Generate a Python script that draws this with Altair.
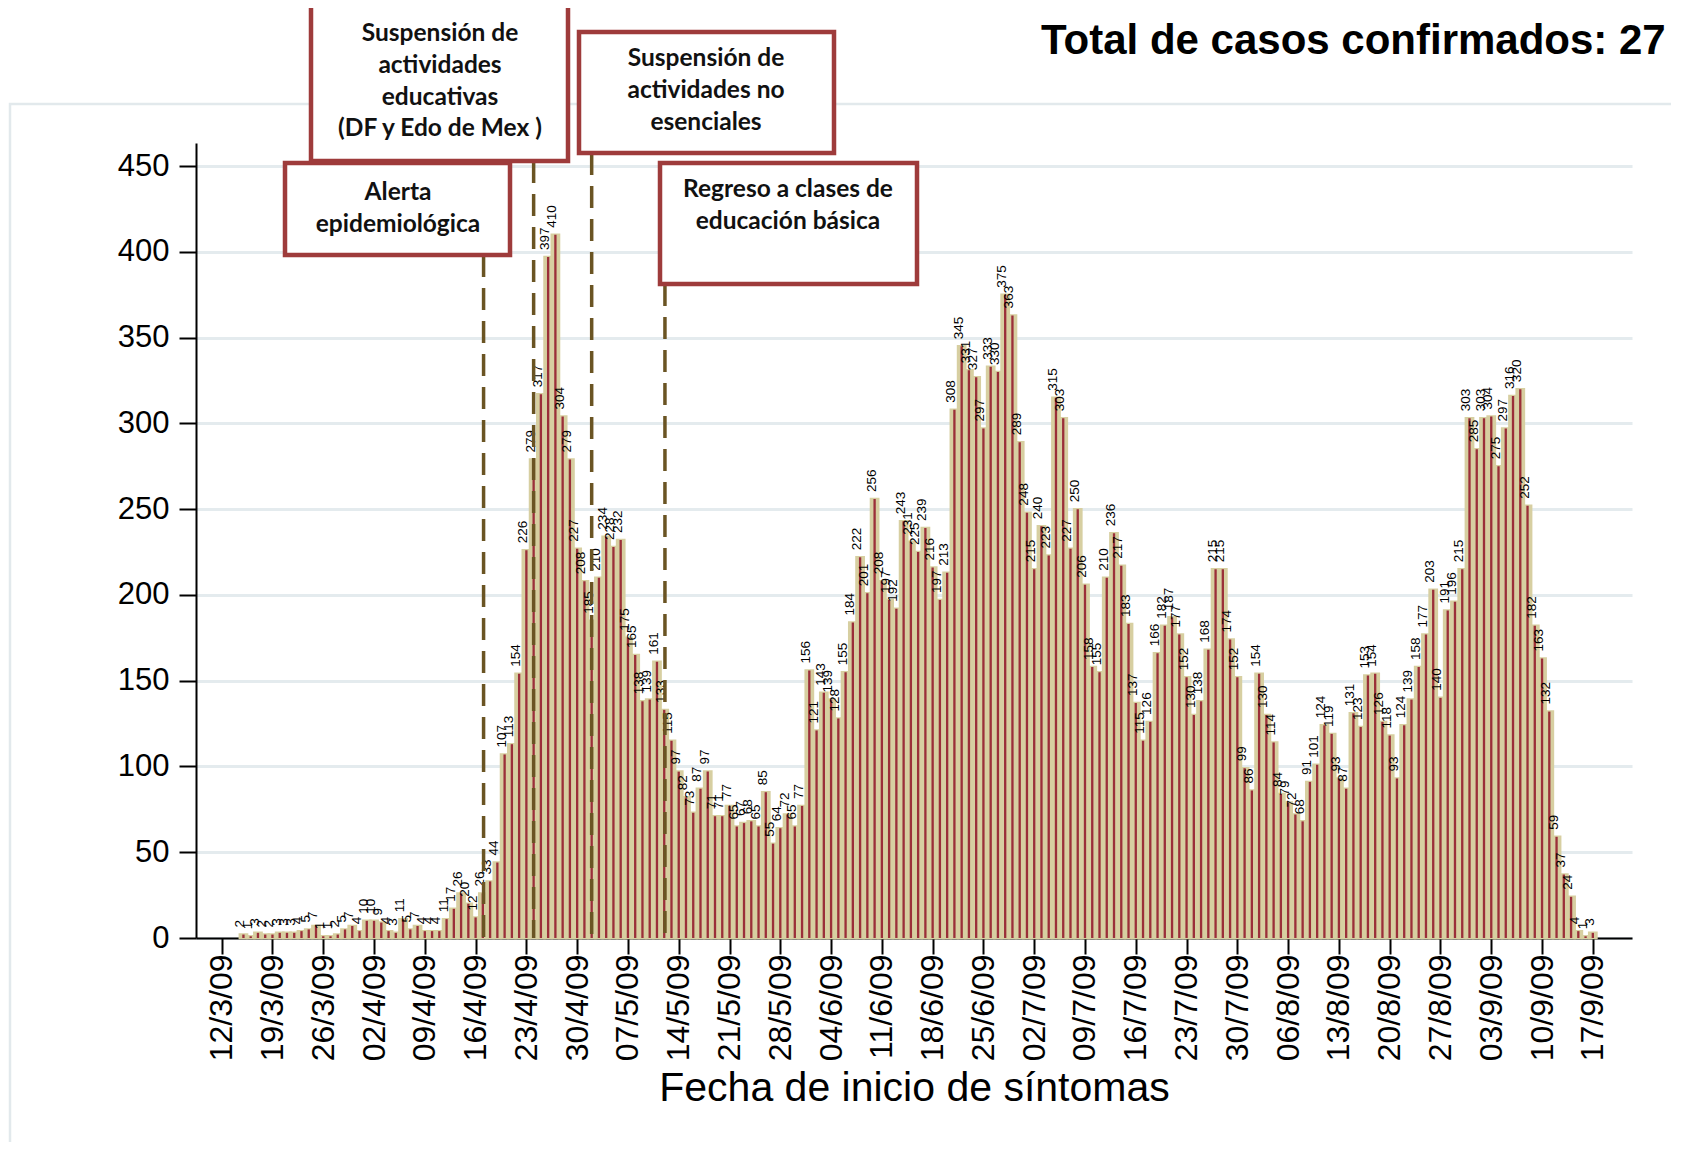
import json
import altair as alt
import pandas as pd

# ---------------- data (day 0 = 12/3/09) ----------------
first_day = 3  # first bar: 15/3/09
cases = [
    2, 1, 3, 2, 2, 3, 3, 3, 4, 5, 7, 1, 1, 2, 5, 7, 4, 10, 10, 9, 4, 3, 11, 5, 7, 4, 4, 4,
    11, 17, 26, 20, 12, 26, 33, 44, 107, 113, 154, 226, 279, 317, 397, 410, 304, 279, 227, 208, 185, 210, 234, 228, 232,
    175, 165, 138, 139, 161, 133, 115, 97, 82, 73, 87, 97, 71, 71, 77, 65, 67, 68, 65, 85, 55, 64, 72, 65, 77,
    156, 121, 143, 139, 128, 155, 184, 222, 201, 256, 208, 197, 192, 243, 231, 225, 239, 216, 197, 213,
    308, 345, 331, 327, 297, 333, 330, 375, 363, 289, 248, 215, 240, 223, 315, 303, 227, 250, 206, 158,
    155, 210, 236, 217, 183, 137, 115, 126, 166, 182, 187, 177, 152, 130, 138, 168, 215, 215, 174, 152,
    99, 86, 154, 130, 114, 84, 79, 72, 68, 91, 101, 124, 119, 93, 87, 131, 123, 153, 154, 126,
    118, 93, 124, 139, 158, 177, 203, 140, 191, 196, 215, 303, 285, 303, 304, 275, 297, 316, 320, 252,
    182, 163, 132, 59, 37, 24, 4, 1, 3,
]
days = list(range(first_day, first_day + len(cases)))

tick_days = list(range(0, 190, 7))
tick_labels = ["12/3/09", "19/3/09", "26/3/09", "02/4/09", "09/4/09", "16/4/09", "23/4/09",
               "30/4/09", "07/5/09", "14/5/09", "21/5/09", "28/5/09", "04/6/09", "11/6/09",
               "18/6/09", "25/6/09", "02/7/09", "09/7/09", "16/7/09", "23/7/09", "30/7/09",
               "06/8/09", "13/8/09", "20/8/09", "27/8/09", "03/9/09", "10/9/09", "17/9/09"]
y_ticks = list(range(0, 451, 50))

event_days = [36.1, 43.0, 51.0, 61.1]
event_texts = [
    "Alerta\nepidemiológica",
    "Suspensión de\nactividades\neducativas\n(DF y Edo de Mex )",
    "Suspensión de\nactividades no\nesenciales",
    "Regreso a clases de\neducación básica",
]
title_text = "Total de casos confirmados: 27"
x_title = "Fecha de inicio de síntomas"

# ---------------- layout (pixels, relative to plot origin) ----------------
W, H = 1436, 795
# boxes: (x0, x1, y0, y1, text center x, first line y, top of dashed line)
box_geom = [
    (89, 314, 20, 112, 202, 50, 112),
    (115, 372, -138, 18, 244, -109, 18),
    (383, 638, -111, 10, 510, -84, 10),
    (464, 721, 20, 141, 592, 47, 141),
]

TAN = "#d7cfa1"
RED = "#9b2f39"
BOX = "#9e3b3b"
DASH = "#6a5423"

xs = alt.Scale(domain=[-3.54, 194.4], nice=False, zero=False)
ys = alt.Scale(domain=[0, 463.5], nice=False, zero=True)

xaxis = alt.Axis(
    values=tick_days,
    labelExpr=json.dumps(tick_labels) + "[round(datum.value / 7)]",
    labelAngle=270, labelFontSize=32, labelFont="Liberation Sans", labelColor="#000",
    labelPadding=0, labelOverlap=False, labelFlush=False,
    tickSize=16, tickWidth=2, tickColor="#000",
    domainColor="#000", domainWidth=2, grid=False,
    title=x_title, titleFontSize=41, titleFont="Liberation Sans", titleFontWeight="normal",
    titleColor="#000", titlePadding=8,
)
yaxis = alt.Axis(
    values=y_ticks, labelFontSize=31, labelFont="Liberation Sans", labelColor="#000",
    labelPadding=10, tickSize=17, tickWidth=2, tickColor="#000",
    domainColor="#000", domainWidth=2,
    grid=True, gridColor="#e4ebee", gridWidth=3, title=None,
)

df = pd.DataFrame({"day": days, "cases": cases})
one = pd.DataFrame({"a": [0]})

base = alt.Chart(df).transform_calculate(
    d0="datum.day - 0.5", d1="datum.day + 0.5",
    r0="datum.day - 0.16", r1="datum.day + 0.16", z="0",
)

tan = base.mark_rect(color=TAN, stroke=TAN, strokeWidth=2.5).encode(
    x=alt.X("d0:Q", scale=xs, axis=xaxis), x2="d1:Q",
    y=alt.Y("cases:Q", scale=ys, axis=yaxis), y2="z:Q",
)
red = base.mark_rect(color=RED).encode(
    x=alt.X("r0:Q", scale=xs, axis=xaxis), x2="r1:Q",
    y=alt.Y("cases:Q", scale=ys, axis=yaxis), y2="z:Q",
)
labels = base.mark_text(
    angle=270, align="left", baseline="alphabetic", dx=7, dy=1,
    fontSize=13.5, font="Liberation Sans", color="#000",
).encode(
    x=alt.X("day:Q", scale=xs, axis=xaxis),
    y=alt.Y("cases:Q", scale=ys, axis=yaxis),
    text="cases:Q",
)

frame = alt.Chart(one).mark_rect(
    fillOpacity=0, stroke="#e2e9ec", strokeWidth=2.5
).encode(x=alt.value(-186), x2=alt.value(1500), y=alt.value(-39), y2=alt.value(1030))

layers = [frame, tan, red, labels]

for d, g in zip(event_days, box_geom):
    rdf = pd.DataFrame({"day": [d]})
    layers.append(
        alt.Chart(rdf).mark_rule(color=DASH, strokeWidth=3.5, strokeDash=[22, 11]).encode(
            x=alt.X("day:Q", scale=xs, axis=xaxis), y=alt.value(g[6]), y2=alt.value(H)
        )
    )

for txt, g in zip(event_texts, box_geom):
    x0, x1, y0, y1, cx, cy, _ = g
    layers.append(
        alt.Chart(one).mark_rect(fill="white", stroke=BOX, strokeWidth=4.5).encode(
            x=alt.value(x0), x2=alt.value(x1), y=alt.value(y0), y2=alt.value(y1)
        )
    )
    layers.append(
        alt.Chart(one).mark_text(
            text=txt, lineBreak="\n", lineHeight=31.8, align="center", baseline="middle",
            font="Lato", fontWeight="bold", fontSize=24.5, color="#111",
        ).encode(x=alt.value(cx), y=alt.value(cy))
    )

layers.append(
    alt.Chart(one).mark_text(
        text=title_text, align="left", baseline="alphabetic",
        font="Liberation Sans", fontWeight="bold", fontSize=42, color="#000",
    ).encode(x=alt.value(845), y=alt.value(-89))
)

chart = alt.layer(*layers).properties(
    width=W, height=H,
    autosize=alt.AutoSizeParams(type="none"),
    padding={"left": 188, "top": 135, "right": 39, "bottom": 204},
    background="white",
).configure_view(strokeWidth=0)

chart.save("out.html", embed_options={"renderer": "svg", "actions": False})
